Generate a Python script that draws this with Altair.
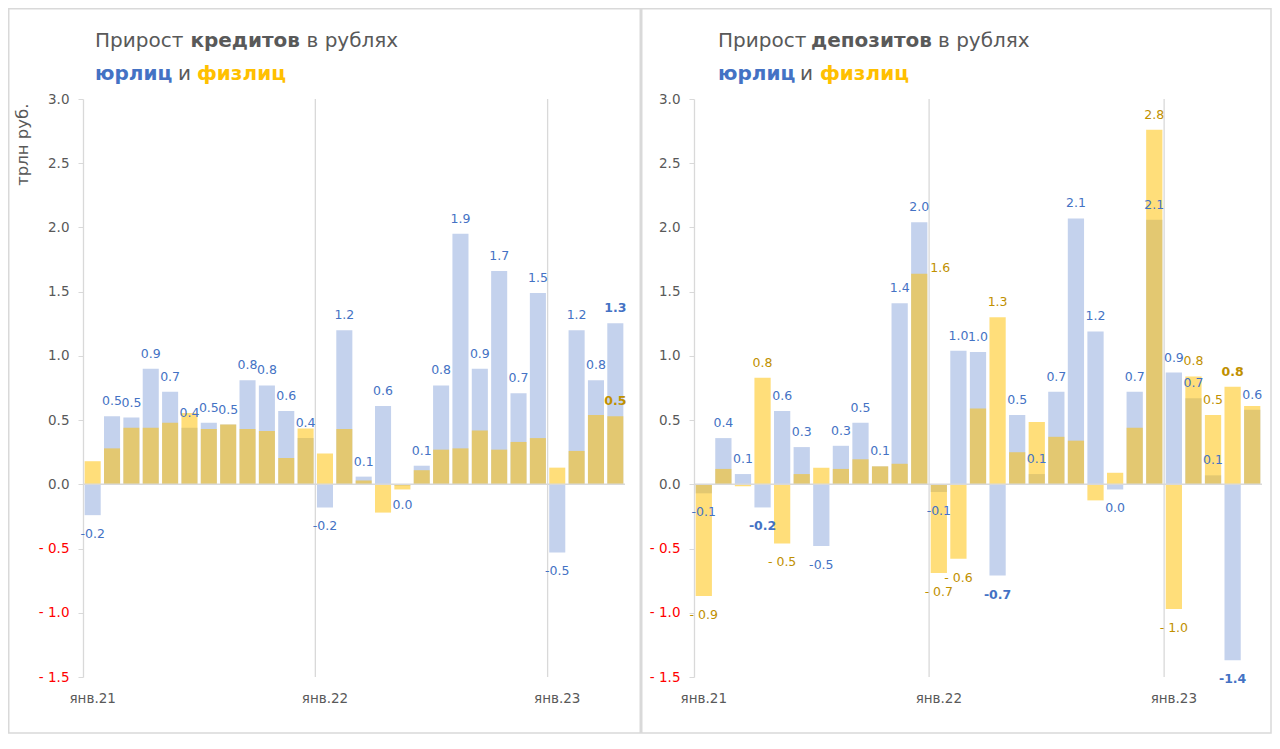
import altair as alt
import pandas as pd

# ---------------- data ----------------
months_all = [f"{y}-{m:02d}" for y in (2021, 2022, 2023) for m in range(1, 13)]
months_cred = months_all[:28]   # янв.21 .. апр.23
months_dep = months_all[:29]    # янв.21 .. май.23

# Прирост кредитов, трлн руб.
cred_jur = [-0.24, 0.53, 0.52, 0.90, 0.72, 0.44, 0.48, 0.465, 0.81, 0.77, 0.57, 0.36,
            -0.18, 1.20, 0.06, 0.61, -0.01, 0.145, 0.77, 1.95, 0.90, 1.66, 0.71, 1.49,
            -0.53, 1.20, 0.81, 1.255]
cred_fiz = [0.18, 0.28, 0.44, 0.44, 0.48, 0.555, 0.43, 0.465, 0.43, 0.415, 0.205, 0.435,
            0.24, 0.43, 0.03, -0.22, -0.04, 0.11, 0.27, 0.28, 0.42, 0.27, 0.33, 0.36,
            0.13, 0.26, 0.54, 0.53]

# Прирост депозитов, трлн руб.
dep_jur = [-0.07, 0.36, 0.08, -0.18, 0.57, 0.29, -0.48, 0.30, 0.48, 0.14, 1.41, 2.04,
           -0.06, 1.04, 1.03, -0.71, 0.54, 0.08, 0.72, 2.07, 1.19, -0.04, 0.72, 2.06,
           0.87, 0.67, 0.07, -1.37, 0.58]
dep_fiz = [-0.87, 0.12, -0.015, 0.83, -0.46, 0.08, 0.13, 0.12, 0.195, 0.14, 0.16, 1.64,
           -0.69, -0.58, 0.59, 1.30, 0.25, 0.485, 0.37, 0.34, -0.125, 0.09, 0.44, 2.76,
           -0.97, 0.84, 0.54, 0.76, 0.61]

# which data labels are shown / bold
cred_jur_bold = ["2023-04"]
cred_fiz_shown = ["2023-04"]
cred_fiz_bold = ["2023-04"]
dep_jur_bold = ["2021-04", "2022-04", "2023-04"]
dep_fiz_shown = ["2021-01", "2021-04", "2021-05", "2021-12", "2022-01", "2022-02",
                 "2022-04", "2022-12", "2023-01", "2023-02", "2023-03", "2023-04"]
dep_fiz_bold = ["2023-04"]
dep_fiz_side = ["2021-12"]

# ---------------- style ----------------
F = "DejaVu Sans"
GRAY = "#595959"
LINE = "#D9D9D9"
BLUE_BAR = "#C4D2ED"
YEL_BAR = "#FFBF00"
BLUE_TXT = "#4472C4"
YEL_TXT = "#BF9000"
YEL_TITLE = "#FFC000"
PLOT_H = 578
TITLE_SIZE = 20


def fmt_jur(v):
    s = f"{abs(v):.1f}"
    return ("-" if v < 0 and s != "0.0" else "") + s


def fmt_fiz(v):
    s = f"{abs(v):.1f}"
    return ("- " if v < 0 and s != "0.0" else "") + s


def make_df(months, jur, fiz, jur_bold, fiz_shown, fiz_bold, fiz_side):
    return pd.DataFrame({
        "m": months,
        "jur": jur,
        "fiz": fiz,
        "jur_label": [fmt_jur(v) for v in jur],
        "fiz_label": [fmt_fiz(v) for v in fiz],
        "jur_bold": [m in jur_bold for m in months],
        "fiz_show": [m in fiz_shown for m in months],
        "fiz_bold": [m in fiz_bold for m in months],
        "fiz_side": [m in fiz_side for m in months],
    })


def panel(df, months, width, ytitle, frame, title_segs):
    xscale = alt.Scale(paddingInner=0.17, paddingOuter=0.085)
    xaxis = alt.Axis(
        title=None, ticks=False, domain=False, grid=False, labelAngle=0,
        labelPadding=14, labelFont=F, labelFontSize=13.5, labelColor=GRAY,
        labelExpr="substring(datum.value,5,7)=='01' ? 'янв.' + substring(datum.value,2,4) : ''",
    )
    yscale = alt.Scale(domain=[-1.5, 3.0], nice=False, zero=False)
    axis_kw = dict(
        values=[-1.5, -1.0, -0.5, 0.0, 0.5, 1.0, 1.5, 2.0, 2.5, 3.0],
        grid=False, tickSize=5, tickColor=LINE, domainColor=LINE, domainWidth=1.3,
        labelPadding=9, labelFont=F, labelFontSize=13.5,
        labelColor={"condition": {"test": "datum.value < 0", "value": "#FF0000"}, "value": GRAY},
        labelExpr="datum.value < 0 ? '- ' + format(-datum.value, '.1f') : format(datum.value, '.1f')",
    )
    if ytitle:
        yaxis = alt.Axis(title=ytitle, titleFont=F, titleFontSize=16.5, titleFontWeight="normal",
                         titleColor=GRAY, titleX=-61, titleY=4, titleAlign="right",
                         titleBaseline="middle", titleAngle=270, **axis_kw)
    else:
        yaxis = alt.Axis(title=None, **axis_kw)

    X = alt.X("m:O", sort=months, scale=xscale, axis=xaxis)
    base = alt.Chart(df)

    fx, fx2, fy, fy2 = frame
    frame_layer = alt.Chart(pd.DataFrame({"f": [0]})).mark_rect(
        filled=False, stroke=LINE, strokeWidth=1.5
    ).encode(x=alt.value(fx), x2=alt.value(fx2), y=alt.value(fy), y2=alt.value(fy2))

    grid = base.transform_filter(
        "substring(datum.m,5,7)=='01' && datum.m != '2021-01'"
    ).mark_rule(color=LINE, strokeWidth=1.3, xOffset=-1.6).encode(
        x=alt.X("m:O", sort=months, scale=xscale, axis=xaxis, bandPosition=0)
    )

    bars_j = base.mark_bar(color=BLUE_BAR).encode(
        x=X, y=alt.Y("jur:Q", scale=yscale, axis=yaxis))
    bars_f = base.mark_bar(color=YEL_BAR, opacity=0.52).encode(
        x=X, y=alt.Y("fiz:Q", scale=yscale, axis=yaxis))

    zero = alt.Chart(pd.DataFrame({"z": [0]})).mark_rule(color=LINE, strokeWidth=1.5).encode(
        y=alt.Y("z:Q", scale=yscale, axis=yaxis))

    def lbl(expr, field, tfield, color, bold, dy, dx=0):
        return base.transform_filter(expr).mark_text(
            font=F, fontSize=12.5, color=color,
            fontWeight="bold" if bold else "normal",
            align="center", baseline="alphabetic", dy=dy, dx=dx,
        ).encode(x=X, y=alt.Y(f"{field}:Q", scale=yscale, axis=yaxis), text=f"{tfield}:N")

    labels = [
        lbl("datum.jur >= 0 && !datum.jur_bold", "jur", "jur_label", BLUE_TXT, False, -11),
        lbl("datum.jur >= 0 && datum.jur_bold", "jur", "jur_label", BLUE_TXT, True, -11),
        lbl("datum.jur < 0 && !datum.jur_bold", "jur", "jur_label", BLUE_TXT, False, 23),
        lbl("datum.jur < 0 && datum.jur_bold", "jur", "jur_label", BLUE_TXT, True, 23),
        lbl("datum.fiz_show && !datum.fiz_side && datum.fiz >= 0 && !datum.fiz_bold",
            "fiz", "fiz_label", YEL_TXT, False, -11),
        lbl("datum.fiz_show && !datum.fiz_side && datum.fiz >= 0 && datum.fiz_bold",
            "fiz", "fiz_label", YEL_TXT, True, -11),
        lbl("datum.fiz_show && !datum.fiz_side && datum.fiz < 0",
            "fiz", "fiz_label", YEL_TXT, False, 23),
        lbl("datum.fiz_show && datum.fiz_side", "fiz", "fiz_label", YEL_TXT, False, -2, 21),
    ]

    titles = []
    for text, x, y, color, bold in title_segs:
        titles.append(
            alt.Chart(pd.DataFrame({"t": [text]})).mark_text(
                align="left", baseline="alphabetic", font=F, fontSize=TITLE_SIZE,
                color=color, fontWeight="bold" if bold else "normal",
            ).encode(text="t:N", x=alt.value(x), y=alt.value(y))
        )

    return alt.layer(frame_layer, grid, bars_j, bars_f, zero, *labels, *titles).properties(
        width=width, height=PLOT_H)


df_cred = make_df(months_cred, cred_jur, cred_fiz, cred_jur_bold, cred_fiz_shown,
                  cred_fiz_bold, [])
df_dep = make_df(months_dep, dep_jur, dep_fiz, dep_jur_bold, dep_fiz_shown,
                 dep_fiz_bold, dep_fiz_side)

L1, L2 = -52.5, -19
left = panel(
    df_cred, months_cred, 542, "трлн руб.", (-74.25, 557.25, -90.25, 634),
    [("Прирост", 12, L1, GRAY, False), ("кредитов", 107.4, L1, GRAY, True),
     ("в рублях", 223.5, L1, GRAY, False),
     ("юрлиц", 12, L2, BLUE_TXT, True), ("и", 95, L2, GRAY, False),
     ("физлиц", 114, L2, YEL_TITLE, True)],
)
right = panel(
    df_dep, months_dep, 568, None, (-52.25, 577, -90.25, 634),
    [("Прирост", 24, L1, GRAY, False), ("депозитов", 117, L1, GRAY, True),
     ("в рублях", 244, L1, GRAY, False),
     ("юрлиц", 24, L2, BLUE_TXT, True), ("и", 106, L2, GRAY, False),
     ("физлиц", 126, L2, YEL_TITLE, True)],
)

chart = alt.hconcat(left, right, spacing=0).properties(
    padding=0, background="white"
).configure_view(strokeWidth=0)

chart.save("out.html", embed_options={"renderer": "svg", "actions": False})
